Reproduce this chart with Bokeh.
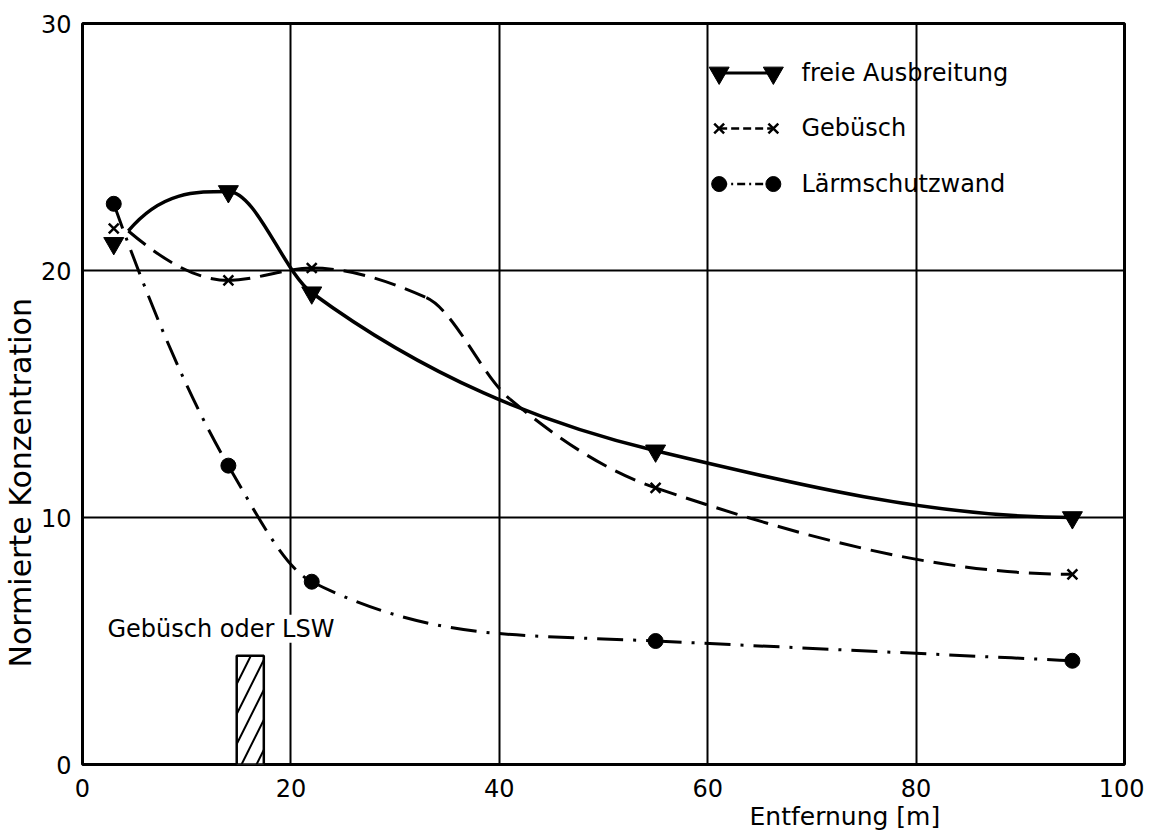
import numpy as np
from bokeh.plotting import figure
from bokeh.models import Label, FixedTicker, Title
from bokeh.embed import file_html
from bokeh.resources import INLINE

# ---------------- data ----------------
x_ticks = [0, 20, 40, 60, 80, 100]
y_ticks = [0, 10, 20, 30]

freie_x = [3, 14, 22, 55, 95]
freie_y = [21.1, 23.2, 19.1, 12.7, 10.0]
gebuesch_x = [3, 14, 22, 55, 95]
gebuesch_y = [21.7, 19.6, 20.1, 11.2, 7.7]
lsw_x = [3, 14, 22, 55, 95]
lsw_y = [22.7, 12.1, 7.4, 5.0, 4.2]

# points (curves start at a common point)
freie_curve_x = [4.4, 14, 22, 55, 95]
freie_curve_y = [21.6, 23.2, 19.1, 12.7, 10.0]
gebuesch_curve_x = [4.4, 14, 22, 33, 41, 55, 95]
gebuesch_curve_y = [21.6, 19.6, 20.1, 18.9, 14.8, 11.2, 7.7]
lsw_curve_x = [3, 14, 22, 40, 55, 95]
lsw_curve_y = [22.7, 12.1, 7.4, 5.3, 5.0, 4.2]

barrier_left = 14.8
barrier_right = 17.4
barrier_height = 4.4

labels = ["freie  Ausbreitung", "Gebüsch", "Lärmschutzwand"]
FONT = "DejaVu Sans"


def pchip_slopes(x, y):
    x = np.asarray(x, float)
    y = np.asarray(y, float)
    h = np.diff(x)
    d = np.diff(y) / h
    n = len(x)
    m = np.zeros(n)
    for k in range(1, n - 1):
        if d[k - 1] * d[k] <= 0:
            m[k] = 0.0
        else:
            w1 = 2 * h[k] + h[k - 1]
            w2 = h[k] + 2 * h[k - 1]
            m[k] = (w1 + w2) / (w1 / d[k - 1] + w2 / d[k])

    def end(h0, h1, d0, d1):
        mm = ((2 * h0 + h1) * d0 - h0 * d1) / (h0 + h1)
        if np.sign(mm) != np.sign(d0):
            mm = 0.0
        elif np.sign(d0) != np.sign(d1) and abs(mm) > abs(3 * d0):
            mm = 3 * d0
        return mm

    m[0] = end(h[0], h[1], d[0], d[1])
    m[-1] = end(h[-1], h[-2], d[-1], d[-2])
    return m


def bezier_segments(x, y):
    x = np.asarray(x, float)
    y = np.asarray(y, float)
    m = pchip_slopes(x, y)
    h = np.diff(x)
    return dict(
        x0=x[:-1], y0=y[:-1], x1=x[1:], y1=y[1:],
        cx0=x[:-1] + h / 3, cy0=y[:-1] + m[:-1] * h / 3,
        cx1=x[1:] - h / 3, cy1=y[1:] - m[1:] * h / 3,
    )


p = figure(width=1144, height=830, x_range=(0, 100), y_range=(0, 30),
           output_backend="svg", toolbar_location=None,
           min_border_left=73, min_border_right=20,
           min_border_top=23, min_border_bottom=66)
p.background_fill_color = "white"
p.border_fill_color = "white"
p.outline_line_color = "black"
p.outline_line_width = 3

p.xaxis.ticker = FixedTicker(ticks=x_ticks)
p.yaxis.ticker = FixedTicker(ticks=y_ticks)
for ax in (p.xaxis, p.yaxis):
    ax.axis_line_color = None
    ax.major_tick_line_color = None
    ax.minor_tick_line_color = None
    ax.major_label_text_font = FONT
    ax.major_label_text_font_size = "24px"
    ax.major_label_text_color = "black"
p.xaxis.major_label_standoff = 8
p.yaxis.major_label_standoff = 5

p.xgrid.ticker = FixedTicker(ticks=x_ticks[1:-1])
p.ygrid.ticker = FixedTicker(ticks=y_ticks[1:-1])
for g in (p.xgrid, p.ygrid):
    g.grid_line_color = "black"
    g.grid_line_width = 2
    g.grid_line_alpha = 1

# axis titles
p.add_layout(Title(text="Entfernung [m]", align="left", offset=667,
                   text_font=FONT, text_font_size="25px", text_font_style="normal",
                   text_color="black", standoff=0), "below")
p.add_layout(Title(text="Normierte Konzentration", align="left", offset=97,
                   text_font=FONT, text_font_size="30px", text_font_style="normal",
                   text_color="black", standoff=0), "left")

# barrier (hatched)
p.quad(left=[barrier_left], right=[barrier_right], bottom=[0], top=[barrier_height],
       fill_color="white", line_color="black", line_width=2.5,
       hatch_pattern="/", hatch_color="black", hatch_scale=30, hatch_weight=2)

p.add_layout(Label(x=2.4, y=5.5, text="Gebüsch oder LSW", text_font=FONT,
                   text_font_size="24px", text_baseline="middle",
                   background_fill_color="white", text_color="black"))

# curves
p.bezier(line_color="black", line_width=3.5,
         **bezier_segments(freie_curve_x, freie_curve_y))
p.bezier(line_color="black", line_width=3, line_dash="22 10",
         **bezier_segments(gebuesch_curve_x, gebuesch_curve_y))
p.bezier(line_color="black", line_width=3, line_dash="26 10 3 10",
         **bezier_segments(lsw_curve_x, lsw_curve_y))

# markers
p.scatter(freie_x, freie_y, marker="inverted_triangle", size=20,
          fill_color="black", line_color="black")
p.scatter(gebuesch_x, gebuesch_y, marker="x", size=14,
          line_color="black", line_width=2.5)
p.scatter(lsw_x, lsw_y, marker="circle", size=15,
          fill_color="black", line_color="black")

# legend drawn by hand
leg_x0, leg_x1, leg_tx = 61.1, 66.3, 69.0
leg_rows = [28.0, 25.75, 23.5]
p.line([leg_x0, leg_x1], [leg_rows[0]] * 2, line_color="black", line_width=3)
p.scatter([leg_x0, leg_x1], [leg_rows[0]] * 2, marker="inverted_triangle", size=20,
          fill_color="black", line_color="black")
p.line([leg_x0, leg_x1], [leg_rows[1]] * 2, line_color="black", line_width=2.5,
       line_dash="8 4")
p.scatter([leg_x0, leg_x1], [leg_rows[1]] * 2, marker="x", size=14,
          line_color="black", line_width=2.5)
p.line([leg_x0, leg_x1], [leg_rows[2]] * 2, line_color="black", line_width=2.5,
       line_dash="8 4 2 4")
p.scatter([leg_x0, leg_x1], [leg_rows[2]] * 2, marker="circle", size=15,
          fill_color="black", line_color="black")
for lab, yy in zip(labels, leg_rows):
    p.add_layout(Label(x=leg_tx, y=yy, text=lab, text_font=FONT,
                       text_font_size="24px", text_baseline="middle",
                       text_color="black"))

open("out.html", "w").write(file_html(p, INLINE))
